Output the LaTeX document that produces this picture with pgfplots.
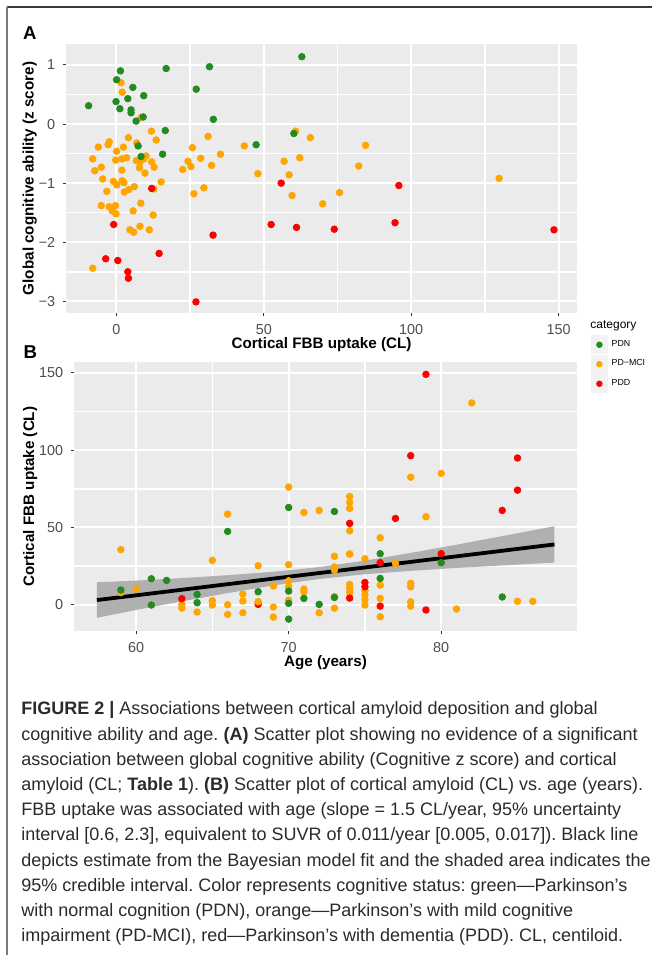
\documentclass[border=0pt]{standalone}
\usepackage{fontspec}
\setmainfont{Liberation Sans}
\usepackage{pgfplots}
\pgfplotsset{compat=1.18}

\definecolor{pdn}{HTML}{228B22}
\definecolor{mci}{HTML}{FFA500}
\definecolor{pdd}{HTML}{FF0000}
\definecolor{panelbg}{HTML}{EBEBEB}
\definecolor{keybg}{HTML}{F2F2F2}
\definecolor{ribbon}{HTML}{B0B0B0}
\definecolor{tickcol}{HTML}{4D4D4D}
\definecolor{tickmark}{HTML}{333333}
\definecolor{captcol}{HTML}{2A2A2A}

\newcommand{\tickfont}{\fontsize{7.2}{8}\selectfont}
\newcommand{\titlefont}{\fontsize{7.6}{9}\selectfont\bfseries}
\newcommand{\legfont}{\fontsize{4.4}{5}\selectfont}
\newcommand{\captfont}{\fontsize{9}{12.6}\selectfont}

\pgfplotsset{
  ggstyle/.style={
    scale only axis,
    axis background/.style={fill=panelbg},
    axis line style={draw=none},
    xmajorgrids=true, ymajorgrids=true,
    xminorgrids=true, yminorgrids=true,
    minor x tick num=1, minor y tick num=1,
    major grid style={white, line width=1.05pt},
    minor grid style={white, line width=0.75pt},
    tick align=outside,
    tick pos=left,
    major tick length=1.7pt,
    minor tick length=1.5pt,
    minor tick style={draw=none},
    every major tick/.append style={tickmark, line width=0.5pt},
    tick label style={font=\tickfont, text=tickcol},
    xticklabel style={anchor=north, inner sep=0pt, yshift=-3.8pt},
    yticklabel style={anchor=east, inner sep=0pt, xshift=-3.5pt},
    /pgf/number format/assume math mode=true,
  },
  ptstyle/.style={only marks, mark=*, mark size=1.65pt, color=#1, mark options={line width=0.4pt, draw=#1, fill=#1}, forget plot},
}

\begin{document}
\frenchspacing
\begin{tikzpicture}
\path[use as bounding box] (0,0) rectangle (326pt,477.5pt);
% frame
\draw[color=black!78, line width=0.85pt] (3.65pt,473.85pt) -- (326pt,473.85pt);
\draw[color=black!52, line width=0.85pt] (3.65pt,473.85pt) -- (3.65pt,0pt);

% ---------------- Panel A ----------------
\begin{axis}[ggstyle,
  at={(33pt,321pt)}, anchor=south west,
  width=255.5pt, height=134.5pt,
  xmin=-17.06, xmax=156.2, ymin=-3.198, ymax=1.355,
  xtick={0,50,100,150}, xticklabels={0,50,100,150},
  ytick={-3,-2,-1,0,1}, yticklabels={−3,−2,−1,0,1},
  legend style={at={(1.0268,-0.0831)}, anchor=north west, draw=none, fill=none,
    inner sep=0pt, outer sep=0pt, row sep=0.35pt, font=\legfont,
    nodes={inner sep=0pt},
    /tikz/every odd column/.append style={column sep=1.8pt}},
  legend cell align=left,
]
\addplot[ptstyle=mci] coordinates {
(1.6,0.70) (2.0,0.54) (8.4,0.11) (11.9,-0.12) (13.5,-0.27) (4.1,-0.23) (6.9,-0.32)
(-2.4,-0.30) (-2.8,-0.35) (-6.1,-0.39) (0.1,-0.46) (2.4,-0.39) (-8.0,-0.59) (-5.1,-0.73)
(-7.3,-0.79) (-0.2,-0.61) (1.9,-0.59) (3.5,-0.57) (1.9,-0.78)
(6.8,-0.62) (7.8,-0.74) (8.0,-0.65) (9.3,-0.59) (10.1,-0.54) (12.0,-0.64) (12.8,-0.73) (9.7,-0.83)
(-1.0,-0.97) (-4.6,-0.93) (0.2,-1.03) (2.0,-0.96) (2.6,-0.99) (-3.2,-1.14) (2.7,-1.15)
(4.2,-1.11) (6.1,-1.06) (12.7,-1.10) (15.2,-0.98)
(22.5,-0.77) (24.3,-0.63) (25.3,-0.72) (25.8,-0.40) (28.6,-0.58) (31.1,-0.21) (35.3,-0.51)
(32.3,-0.70) (29.7,-1.08) (26.3,-1.18)
(-5.1,-1.38) (-2.4,-1.40) (-0.3,-1.38) (-1.4,-1.47) (-0.1,-1.52) (8.3,-1.34) (5.7,-1.47)
(12.5,-1.54) (4.6,-1.79) (5.9,-1.83) (8.0,-1.73) (11.2,-1.79) (-8.0,-2.44)
(43.4,-0.37) (48.0,-0.84) (56.9,-0.63) (58.6,-0.86) (59.6,-1.21) (60.8,-0.12) (62.2,-0.57)
(65.8,-0.23) (70.0,-1.35) (84.5,-0.36) (82.2,-0.71) (75.7,-1.16) (129.8,-0.92)
};
\addplot[ptstyle=pdn] coordinates {
(-9.4,0.31) (1.4,0.90) (0.1,0.75) (5.6,0.62) (9.3,0.48) (-0.1,0.38) (3.9,0.43) (1.2,0.26)
(5.0,0.24) (5.0,0.19) (6.7,0.05) (9.1,0.12) (16.9,0.94) (31.6,0.97) (27.1,0.59) (32.9,0.08)
(62.9,1.14) (16.6,-0.11) (7.4,-0.37) (8.4,-0.55) (15.7,-0.51) (47.4,-0.35) (60.2,-0.16)
};
\addplot[ptstyle=pdd] coordinates {
(12.0,-1.09) (-0.9,-1.70) (32.8,-1.88) (14.5,-2.19) (-3.6,-2.28) (0.5,-2.31) (3.9,-2.50)
(4.1,-2.61) (27.0,-3.01) (55.9,-1.00) (52.5,-1.70) (61.1,-1.75) (95.8,-1.04) (73.9,-1.78)
(94.5,-1.67) (148.4,-1.79)
};
\addlegendimage{legend image code/.code={\fill[keybg] (0pt,-4.5pt) rectangle (8.3pt,4.5pt); \fill[pdn] (4.15pt,0pt) circle (1.4pt);}}
\addlegendentry{PDN}
\addlegendimage{legend image code/.code={\fill[keybg] (0pt,-4.5pt) rectangle (8.3pt,4.5pt); \fill[mci] (4.15pt,0pt) circle (1.4pt);}}
\addlegendentry{PD−MCI}
\addlegendimage{legend image code/.code={\fill[keybg] (0pt,-4.5pt) rectangle (8.3pt,4.5pt); \fill[pdd] (4.15pt,0pt) circle (1.4pt);}}
\addlegendentry{PDD}
\end{axis}

% ---------------- Panel B ----------------
\begin{axis}[ggstyle,
  at={(37pt,162pt)}, anchor=south west,
  width=251.5pt, height=134.35pt,
  xmin=55.93, xmax=88.9, ymin=-17.0, ymax=156.8,
  xtick={60,70,80}, xticklabels={60,70,80},
  ytick={0,50,100,150}, yticklabels={0,50,100,150},
]
\addplot[fill=ribbon, draw=none, forget plot] coordinates {
(57.43,-8.5) (60,-3.4) (63,2.2) (66,7.5) (69,12.5) (72,16.65) (75,19.7) (78,21.9) (81,23.8) (84,25.4) (87.42,27.25)
(87.42,50.75) (84,44.4) (81,38.8) (78,33.5) (75,28.5) (72,24.35) (69,21.3) (66,19.1) (63,17.2) (60,15.6) (57.43,14.5)
} -- cycle;
\addplot[black, line width=1.9pt, forget plot] coordinates {(57.43,3.0) (87.42,39.0)};
\addplot[ptstyle=mci] coordinates {
(59,35.6) (59,7.8) (60,10.1) (63,0.0) (63,-2.2) (64,-4.7) (65,28.7) (65,2.6) (65,-0.2)
(66,58.6) (66,0.0) (66,-6.3) (67,6.9) (67,2.4) (67,-5.2) (68,25.2) (68,1.9) (69,12.1)
(69,-1.5) (69,-8.0) (70,76.1) (70,25.9) (70,15.5) (70,11.6) (70,3.0) (71,59.7) (71,10.1)
(71,8.4) (72,61.0) (72,-5.2) (73,31.3) (73,24.4) (73,22.4) (73,5.2) (73,-2.2) (74,70.0)
(74,66.2) (74,62.3) (74,47.8) (74,32.8) (74,13.1) (74,10.6) (74,8.0) (75,29.7) (75,9.1)
(75,6.3) (75,3.4) (75,-0.2) (76,43.3) (76,12.7) (76,4.1) (76,-7.8) (77,26.7) (78,82.5)
(78,13.8) (78,11.6) (78,1.9) (78,-0.9) (79,56.9) (80,84.9) (81,-2.8) (82,130.5) (85,2.2) (86,2.2)
};
\addplot[ptstyle=pdn] coordinates {
(59,9.5) (61,16.8) (62,15.7) (61,-0.2) (64,6.7) (64,1.3) (66,47.4) (68,8.4) (70,62.9)
(70,8.8) (70,0.9) (70,-9.3) (71,4.1) (72,0.2) (73,60.3) (73,4.7) (76,33.0) (76,17.0)
(80,27.2) (84,5.0)
};
\addplot[ptstyle=mci] coordinates {(74,32.8)};
\addplot[ptstyle=pdd] coordinates {
(63,3.9) (74,52.6) (74,4.3) (75,14.4) (75,11.6) (76,27.2) (76,-0.9) (77,55.8)
(78,96.4) (79,149.0) (79,-3.4) (80,33.0) (84,61.0) (85,74.1) (85,94.9)
};
\addplot[ptstyle=pdd] coordinates {(68,0.2)};
\addplot[ptstyle=mci] coordinates {(68,1.9)};
\end{axis}

% panel labels and axis titles
\node[anchor=base west, inner sep=0pt, font=\fontsize{9.3}{11}\selectfont\bfseries] at (11.35pt,457.85pt) {A};
\node[anchor=base west, inner sep=0pt, font=\fontsize{9.3}{11}\selectfont\bfseries] at (11.65pt,298.35pt) {B};
\node[anchor=base, inner sep=0pt, font=\titlefont] at (160.75pt,303pt) {Cortical FBB uptake (CL)};
\node[anchor=base, inner sep=0pt, rotate=90, font=\titlefont] at (16.8pt,388.25pt) {Global cognitive ability (z score)};
\node[anchor=base, inner sep=0pt, rotate=90, font=\titlefont] at (17pt,229.2pt) {Cortical FBB uptake (CL)};
\node[anchor=base, inner sep=0pt, font=\titlefont] at (162.75pt,144pt) {Age (years)};
\node[anchor=base west, inner sep=0pt, font=\fontsize{6}{7}\selectfont] at (295pt,313.35pt) {category};

% caption
\begin{scope}[every node/.style={anchor=base west, inner sep=0pt, font=\captfont, text=captcol}]
\node at (10.5pt,120pt) {\textbf{FIGURE 2 |} Associations between cortical amyloid deposition and global};
\node at (10.5pt,107.4pt) {cognitive ability and age. \textbf{(A)} Scatter plot showing no evidence of a significant};
\node at (10.5pt,94.8pt) {association between global cognitive ability (Cognitive z score) and cortical};
\node at (10.5pt,82.2pt) {amyloid (CL; \textbf{Table 1}). \textbf{(B)} Scatter plot of cortical amyloid (CL) vs. age (years).};
\node at (10.5pt,69.6pt) {FBB uptake was associated with age (slope = 1.5 CL/year, 95\% uncertainty};
\node at (10.5pt,57pt) {interval [0.6, 2.3], equivalent to SUVR of 0.011/year [0.005, 0.017]). Black line};
\node at (10.5pt,44.4pt) {depicts estimate from the Bayesian model fit and the shaded area indicates the};
\node at (10.5pt,31.8pt) {95\% credible interval. Color represents cognitive status: green—Parkinson’s};
\node at (10.5pt,19.2pt) {with normal cognition (PDN), orange—Parkinson’s with mild cognitive};
\node at (10.5pt,6.6pt) {impairment (PD-MCI), red—Parkinson’s with dementia (PDD). CL, centiloid.};
\end{scope}
\end{tikzpicture}
\end{document}
